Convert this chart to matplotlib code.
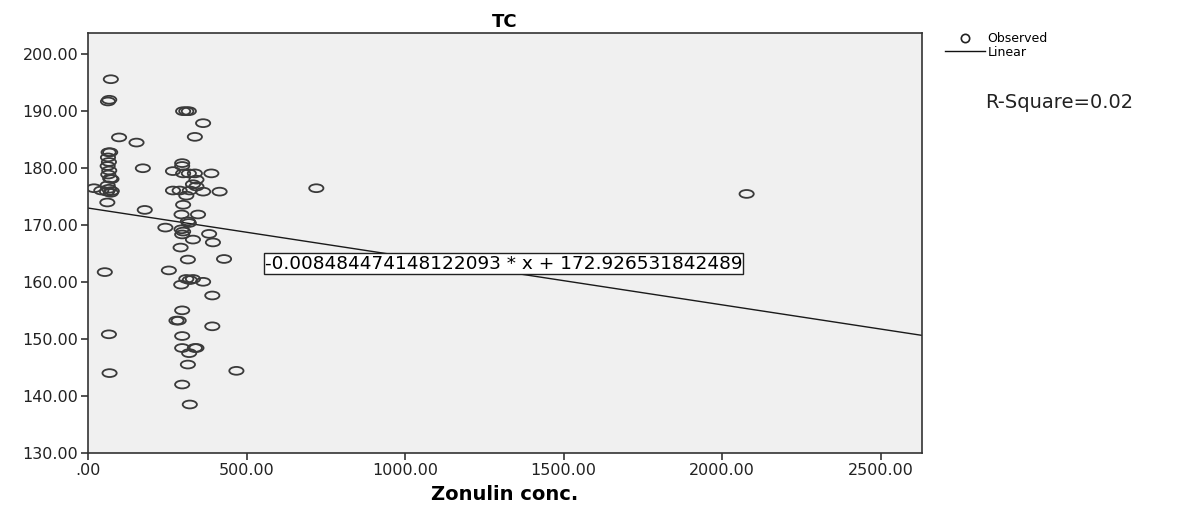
import matplotlib
matplotlib.use("Agg")
import matplotlib.pyplot as plt
from matplotlib.path import Path
from matplotlib.transforms import Affine2D
from matplotlib.lines import Line2D

# ---- data ----
zonulin = [72, 63, 67, 53, 66, 68, 61, 42, 19,
           65, 70, 63, 66, 62, 67, 64, 70, 74, 62, 66, 60, 72, 75,
           98, 153, 173, 179, 244,
           300, 310, 318, 363, 337,
           297, 297, 268, 300, 318, 337, 389,
           342, 331, 342,
           268, 289, 321, 363, 415, 310,
           300, 295, 347, 315, 318,
           295, 300, 297, 382, 331, 394, 292,
           315, 429, 255, 310, 331, 321, 294, 363, 392,
           297, 279, 286, 392, 297, 297, 337, 342, 319, 315, 468, 297, 321,
           720, 2077]
tc = [195.5, 191.6, 191.9, 161.7, 150.8, 144.0, 173.9, 176.0, 176.4,
      182.7, 182.7, 181.8, 181.0, 180.3, 179.5, 178.8, 178.1, 178.0, 176.9, 176.3, 175.8, 175.6, 175.9,
      185.3, 184.4, 179.9, 172.6, 169.5,
      189.9, 189.9, 189.9, 187.8, 185.4,
      180.8, 180.3, 179.4, 179.0, 179.0, 179.0, 179.0,
      177.9, 177.1, 176.7,
      176.0, 176.0, 176.0, 175.8, 175.8, 175.1,
      173.5, 171.8, 171.8, 170.6, 170.3,
      169.2, 168.8, 168.3, 168.4, 167.4, 166.9, 166.0,
      163.9, 164.0, 162.0, 160.5, 160.5, 160.3, 159.5, 160.0, 157.6,
      155.0, 153.2, 153.2, 152.2, 150.5, 148.4, 148.4, 148.4, 147.5, 145.5, 144.4, 142.0, 138.5,
      176.4, 175.4]

slope = -0.008484474148122093
intercept = 172.926531842489
r_square = 0.02
x_ticks = [0, 500, 1000, 1500, 2000, 2500]
y_ticks = [130, 140, 150, 160, 170, 180, 190, 200]
x_limits = (0, 2630)
y_limits = (130, 203.6)

# ---- figure ----
fig = plt.figure(figsize=(11.91, 5.05), dpi=100)
ax = fig.add_axes([88/1191, 1-453/505, (922-88)/1191, (453-33)/505])
ax.set_facecolor("#f0f0f0")

ellipse = Path.unit_circle().transformed(Affine2D().scale(1.0, 0.55))
sc = ax.scatter(zonulin, tc, marker=ellipse, s=105, facecolors="none",
                edgecolors="#3a3a3a", linewidths=1.3, zorder=3, label="Observed")

xs = [x_limits[0], x_limits[1]]
ys = [intercept + slope * v for v in xs]
ln, = ax.plot(xs, ys, color="#1a1a1a", lw=1.0, zorder=2, label="Linear")

ax.set_xlim(*x_limits)
ax.set_ylim(*y_limits)
ax.set_xticks(x_ticks)
ax.set_yticks(y_ticks)
ax.set_xticklabels([(".00" if v == 0 else f"{v:.2f}") for v in x_ticks],
                   fontsize=11.5, family="DejaVu Sans", color="#222222")
ax.set_yticklabels([f"{v:.2f}" for v in y_ticks],
                   fontsize=11.5, family="DejaVu Sans", color="#222222")
ax.tick_params(direction="out", length=5, width=1.2, color="#333333", pad=2)
for s in ax.spines.values():
    s.set_color("#333333")
    s.set_linewidth(1.2)

ax.set_title("TC", fontsize=13, fontweight="bold", family="DejaVu Sans", pad=4)
ax.set_xlabel("Zonulin conc.", fontsize=14, fontweight="bold", family="DejaVu Sans", labelpad=5)

eq = f"{slope!r} * x + {intercept!r}"
ax.text(557, 163.2, eq, fontsize=13.3, family="DejaVu Sans", va="center", ha="left",
        bbox=dict(boxstyle="square,pad=0.06", facecolor="white", edgecolor="#222222", lw=1.0),
        zorder=4)

# legend
h_obs = Line2D([], [], marker="o", ls="none", mfc="none", mec="#222222", ms=6, mew=1.2)
h_lin = Line2D([], [], color="#111111", lw=1.0)
fig.legend([h_obs, h_lin], ["Observed", "Linear"], loc="upper left",
           bbox_to_anchor=(945/1191, 1-32/505), frameon=False,
           prop=dict(family="DejaVu Sans", size=9), handlelength=3.2,
           handletextpad=0.2, labelspacing=0.05, borderpad=0, borderaxespad=0)

fig.text(985/1191, 1-102/505, f"R-Square={r_square:.2f}", fontsize=14,
         family="DejaVu Sans", va="center", ha="left", color="#222222")

fig.savefig("out.png", dpi=100)
